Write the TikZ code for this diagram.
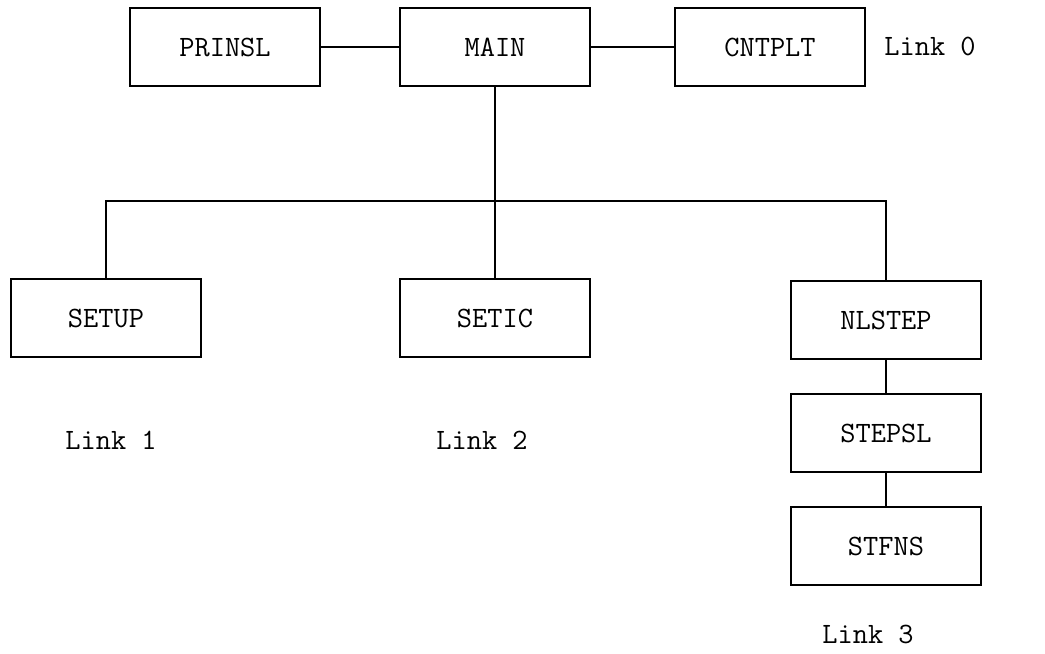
\documentclass[tikz,border=0pt]{standalone}
\usetikzlibrary{positioning}
\tikzset{
  box/.style={draw,line width=1.1pt,minimum width=4.75cm,minimum height=1.95cm,
    font=\ttfamily\fontsize{21}{21}\selectfont},
  linklabel/.style={font=\ttfamily\fontsize{21}{21}\selectfont}
}

\begin{document}
\begin{tikzpicture}[x=0.025cm,y=-0.025cm]
    \useasboundingbox (0,0) rectangle (1045,653);
    \node[box] (1) at (225,47) {PRINSL};
    \node[box] (2) at (495,47) {MAIN};
    \node[box] (3) at (770,47) {CNTPLT};
    \node[linklabel] (l0) at (930,46) {Link 0};

    \node[box] (4) at (106,318) {SETUP};
    \node[box] (5) at (495,318) {SETIC};
    \node[box] (6) at (886,320) {NLSTEP};
    \node[box] (7) at (886,433) {STEPSL};
    \node[box] (8) at (886,546) {STFNS};
    \coordinate (j) at (495,201);

    \node[linklabel] (l1) at (111,440) {Link 1};
    \node[linklabel] (l2) at (482,440) {Link 2};
    \node[linklabel] (l3) at (868,634) {Link 3};

    \path[every edge/.style={draw,line width=1.1pt}]
    (1) edge (2)
    (2) edge (3)
    (2) edge (5)
    (6) edge (7)
    (7) edge (8);
    \draw[line width=1.1pt] (4) |- (j) -| (6);
  \end{tikzpicture}
\end{document}
